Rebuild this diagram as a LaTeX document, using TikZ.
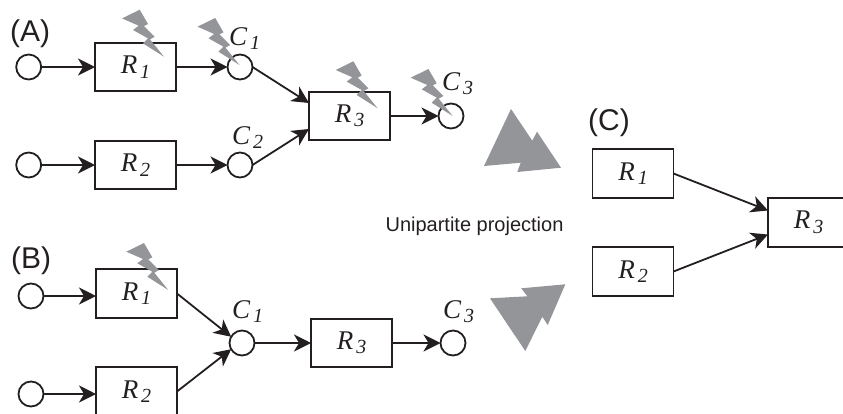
\documentclass[tikz,border=0pt]{standalone}
\usepackage{fontspec}
\setmainfont{Liberation Sans}
\newfontfamily\rmital[ItalicFont={Liberation Serif Italic}]{Liberation Serif}
\usetikzlibrary{arrows.meta}
\definecolor{ink}{HTML}{231F20}
\definecolor{boltgrey}{HTML}{939598}
\newcommand{\lbl}[2]{{\rmital\itshape\fontsize{27}{27}\selectfont #1\hspace{3pt}\raisebox{-4.5pt}{\fontsize{20}{20}\selectfont #2}}}
\newcommand{\boltat}[1]{\fill[boltgrey,shift={#1}] (-42,-38.3) -- (-24.3,-47) -- (-16,-32.7) -- (-20,-30.7) -- (-9.3,-20) -- (-14,-17.3) -- (0,0) -- (-21,-13.3) -- (-16,-18.3) -- (-31,-26.7) -- (-25.3,-31) -- cycle;}
\tikzset{
  x=1pt,y=-1pt,
  rbox/.style={draw=ink,line width=1.8pt,rectangle,minimum width=81pt,minimum height=48.5pt,inner sep=0pt,outer sep=0pt,text=ink},
  cnode/.style={draw=ink,line width=1.8pt,circle,minimum size=25pt,inner sep=0pt,outer sep=0pt},
  link/.style={draw=ink,line width=1.8pt,-{Stealth[length=17pt,width=17pt,inset=5pt,color=ink]}},
  panel/.style={font=\fontsize{30}{30}\selectfont,text=ink,anchor=base west,inner sep=0pt},
  clabel/.style={anchor=base west,inner sep=0pt,text=ink}
}
\begin{document}
\begin{tikzpicture}
\clip (0,0) rectangle (843,413);
% panel A
\node[cnode] (a0) at (28.7,67) {};
\node[rbox] (aR1) at (135.5,67) {\lbl{R}{1}};
\node[cnode] (aC1) at (240,67) {};
\node[cnode] (b0) at (28.7,165) {};
\node[rbox] (aR2) at (135.5,165) {\lbl{R}{2}};
\node[cnode] (aC2) at (240,165) {};
\node[rbox] (aR3) at (349.5,116) {\lbl{R}{3}};
\node[cnode] (aC3) at (451,116) {};
\draw[link] (a0) -- (aR1);
\draw[link] (aR1) -- (aC1);
\draw[link] (b0) -- (aR2);
\draw[link] (aR2) -- (aC2);
\draw[link] (aC1.east) -- ([yshift=13pt]aR3.west);
\draw[link] (aC2.east) -- ([yshift=-13pt]aR3.west);
\draw[link] (aR3) -- (aC3);
\node[panel] (lA) at (10,41) {(A)};
\node[clabel] (tC1) at (229,45) {\lbl{C}{1}};
\node[clabel] (tC2) at (232,144) {\lbl{C}{2}};
\node[clabel] (tC3) at (442,90) {\lbl{C}{3}};
% panel B
\node[cnode] (c0) at (31,296) {};
\node[rbox] (bR1) at (136.5,293.5) {\lbl{R}{1}};
\node[cnode] (d0) at (31,394) {};
\node[rbox] (bR2) at (136.5,391.5) {\lbl{R}{2}};
\node[cnode] (bC1) at (242,343) {};
\node[rbox] (bR3) at (351.5,343) {\lbl{R}{3}};
\node[cnode] (bC3) at (453,343) {};
\draw[link] (c0) -- (c0 -| bR1.west);
\draw[link] (d0) -- (d0 -| bR2.west);
\draw[link] (bR1.east) -- (bC1.150);
\draw[link] (bR2.east) -- (bC1.210);
\draw[link] (bC1) -- (bR3);
\draw[link] (bR3) -- (bC3);
\node[panel] (lB) at (11,268) {(B)};
\node[clabel] (tC1b) at (232,318) {\lbl{C}{1}};
\node[clabel] (tC3b) at (443,318) {\lbl{C}{3}};
% panel C
\node[rbox] (cR1) at (633,173.5) {\lbl{R}{1}};
\node[rbox] (cR2) at (633,271.5) {\lbl{R}{2}};
\node[rbox] (cR3) at (808.5,222.5) {\lbl{R}{3}};
\draw[link] (cR1.east) -- ([yshift=12pt]cR3.west);
\draw[link] (cR2.east) -- ([yshift=-12pt]cR3.west);
\node[panel] (lC) at (588,130) {(C)};
\node[inner sep=0pt,anchor=base,text=ink,font=\fontsize{20}{20}\selectfont] (proj) at (474.5,231) {Unipartite projection};
% bolts
\boltat{(164,56.7)}
\boltat{(239.5,65)}
\boltat{(377.7,108.3)}
\boltat{(452.7,116)}
\boltat{(168.3,290)}
% big arrows
\fill[boltgrey] (511,109) -- (532.3,140.7) -- (537,131.7) -- (561,167.7) -- (517.3,172) -- (520.7,162.7) -- (484,166) -- cycle;
\fill[boltgrey] (490,298.3) -- (527.3,296.3) -- (521.3,288.3) -- (565.3,284.3) -- (547.7,325) -- (542.3,316.7) -- (525.3,351) -- cycle;
\end{tikzpicture}
\end{document}
